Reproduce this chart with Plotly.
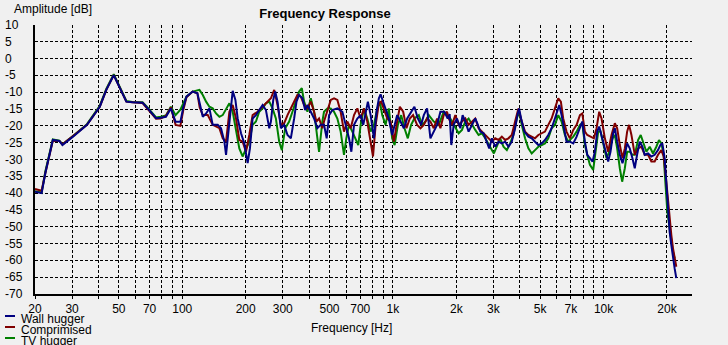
import plotly.graph_objects as go

# ---- measured responses (frequency in Hz, amplitude in dB) ----
wall_freq = [20, 21.5, 22.4, 23.2, 24.3, 26.1, 27.0, 30.3, 35.3, 40.6, 43.6, 47.3, 50.5, 54.3, 58.0, 64.8,
             68.6, 75.1, 79.0, 83.7, 88.3, 93.0, 98.0, 101, 104.7, 112, 118, 121,
             125.2, 129.8, 134.6, 139.5, 147.4, 152.8, 158.5, 161.4, 166.2, 170.5, 173.6, 178.8, 183.3, 190.1,
             197.1, 204.4, 209.6, 215.8, 223.8, 232, 240.7, 249.6, 258.9, 263.6, 270.4, 276.3, 283.4, 293.9,
             304.8, 316, 327.7, 339.8, 348.6, 358.8, 372.1, 383.1, 393, 407.6, 422.6, 438.1, 454.3,
             471, 485, 497.8, 516, 545, 575.6, 596.8, 619, 635, 654, 677.9, 702.9, 723.6, 742.5, 760.8, 784,
             812.7, 836.7, 858, 874, 900, 923, 956.5, 992, 1019, 1048, 1087, 1127, 1169, 1220, 1265, 1313,
             1361, 1402, 1453, 1507, 1563, 1621, 1681, 1755, 1820,
             1860, 1894, 1943, 2015, 2090, 2143, 2207, 2288, 2372, 2460, 2533, 2598, 2693, 2793, 2866, 2950,
             3059, 3172, 3290, 3411, 3537, 3667, 3803, 3901, 3972, 4060, 4207, 4397, 4560, 4727, 4903, 5084,
             5271, 5466, 5669, 5877, 6052, 6161, 6320, 6505, 6672, 6920,
             7184, 7450, 7726, 7925, 8157, 8368, 8614, 8868, 9096, 9331, 9536, 9782, 10145, 10521, 10790,
             11108, 11313, 11604, 11947, 12300, 12618, 12942, 13320, 13713, 14066, 14426, 14853, 15290,
             15683, 16265, 16867, 17488, 18136, 18602, 19014, 19506, 19860, 20225, 20596, 20974, 21359,
             21751, 22150]
wall_db = [-39.6, -40.0, -34.0, -29.5, -24.2, -24.5, -25.7, -23.2, -19.7, -14.3, -9.3, -4.9, -8.8, -12.8, -13.0, -13.1,
           -14.8, -17.7, -17.6, -17.3, -14.8, -18.8, -18.8, -14.7, -11.3, -9.8, -10.3, -13.5,
           -17.3, -16.3, -14.8, -19.7, -19.7, -20.7, -24.7, -28.6, -20.7, -12.3, -9.6, -12.3, -17.8, -22.2,
           -25.2, -31.1, -26.7, -17.8, -16.8, -15.3, -13.8, -15.3, -20.7, -18.7, -12.3, -9.8, -12.8, -20.7,
           -19.7, -22.7, -23.7, -17.8, -12.8, -10.8, -11.8, -15.3, -13.8, -15.8, -17.8, -20.7, -19.7,
           -19.7, -23.7, -16.8, -15.3, -14.8, -15.8, -19.7, -23.7, -27.7, -19.7, -17.8, -16.8, -19.7, -15.8, -12.8, -16.8,
           -23.7, -15.8, -11.8, -10.6, -12.8, -14.8, -17.8, -22.7, -19.7, -16.8, -18.7, -20.7, -17.8, -15.8, -14.3, -17.8,
           -19.7, -16.8, -14.8, -23.7, -21.7, -19.7, -15.8, -15.8, -17.8,
           -16.5, -25.7, -19.7, -17.8, -20.7, -16.8, -18.7, -21.7, -19.7, -17.8, -19.7, -21.7, -22.2, -24.7, -26.7, -23.7,
           -26.2, -24.7, -25.2, -24.7, -26.2, -24.7, -20.7, -16.8, -14.8, -17.8, -21.7, -23.2, -23.7, -24.7, -25.7, -25.2,
           -24.2, -22.7, -20.7, -17.8, -14.8, -13.8, -16.8, -21.7, -24.7, -24.7,
           -25.2, -23.2, -20.7, -18.7, -24.7, -28.6, -29.6, -30.6, -27.7, -21.7, -20.2, -23.2, -26.7, -30.6, -27.7,
           -22.2, -20.7, -24.7, -28.6, -31.1, -28.6, -25.2, -26.7, -29.6, -32.6, -28.6, -24.7, -26.2,
           -28.6, -28.2, -29.1, -28.6, -27.2, -25.7, -25.2, -29.6, -37.6, -46.5, -51.5, -55.4, -59.4,
           -62.4, -65.3]

comp_freq = [20, 21.5, 22.4, 23.2, 24.3, 26.1, 27.0, 30.3, 35.3, 40.6, 43.6, 47.3, 50.5, 54.3, 58.0, 64.8,
             68.6, 75.1, 79.0, 83.7, 88.3, 93.0, 98.0, 101, 104.7, 112, 118, 121,
             125.2, 132.2, 139.5, 150.1, 155.6, 161.4, 167.4, 173.6, 180, 186.6, 193.5, 200.7, 208.1, 215.8,
             227.9, 240.7, 254.1, 263.6, 273.3, 283.4, 293.9, 304.8, 316, 327.7, 339.8, 352.3, 365.5, 378.9,
             393, 407.6, 422.6, 433.4, 446.2, 462.6,
             471, 488.8, 507, 525.6, 545, 565, 586, 607.6, 630.3, 654, 677.9, 702.9, 728.8, 755.7, 784, 804.7,
             828.3, 858, 880, 906, 940, 974.9, 1011, 1041, 1079, 1119, 1160, 1203, 1247, 1303, 1352, 1402,
             1453, 1507, 1563, 1621, 1681, 1743, 1807,
             1840, 1908, 1979, 2052, 2128, 2207, 2288, 2372, 2460, 2551, 2645, 2744, 2845, 2950, 3059, 3172,
             3290, 3411, 3537, 3667, 3803, 3943, 4089, 4240, 4397, 4560, 4727, 4903, 5084, 5271, 5466, 5669,
             5877, 6095, 6272, 6435, 6672, 6920,
             7184, 7450, 7726, 7925, 8157, 8368, 8676, 8998, 9263, 9536, 9782, 10145, 10521, 10908, 11313,
             11604, 11947, 12300, 12618, 12942, 13224, 13563, 14066, 14586, 15123, 15683, 16265, 16867,
             17488, 18136, 18809, 19291, 19719, 20081, 20596, 20974, 21359, 21751, 22150]
comp_db = [-38.8, -39.3, -34.0, -29.5, -24.4, -24.5, -25.5, -23.0, -19.7, -14.3, -9.3, -4.9, -8.8, -12.8, -13.0, -13.2,
           -15.0, -17.9, -17.8, -17.0, -14.5, -19.7, -20.0, -15.5, -11.5, -9.8, -10.3, -14.5,
           -16.8, -16.8, -19.7, -20.7, -23.7, -24.7, -15.8, -13.8, -17.8, -24.2, -24.7, -27.7, -22.7, -16.8,
           -15.8, -14.3, -12.8, -11.8, -9.3, -13.8, -19.7, -19.2, -16.8, -14.8, -12.8, -10.8, -11.3, -13.8,
           -14.8, -12.8, -15.8, -18.7, -17.8, -20.7,
           -18.7, -15.8, -12.3, -11.8, -12.3, -15.8, -21.7, -18.7, -20.7, -16.8, -14.8, -17.8, -14.8, -18.7, -24.7, -29.1,
           -19.7, -13.3, -12.8, -14.8, -17.8, -18.7, -24.7, -19.7, -14.3, -15.8, -20.7, -17.8, -16.8, -19.7, -20.7, -19.7,
           -17.8, -18.7, -20.7, -17.8, -20.7, -16.8, -15.8,
           -17.8, -19.7, -16.8, -19.7, -18.7, -17.8, -19.7, -18.7, -17.8, -20.7, -21.7, -22.7, -23.7, -24.7, -23.7, -24.2,
           -23.2, -24.2, -23.7, -22.7, -18.7, -14.8, -18.7, -21.7, -22.7, -23.2, -23.7, -22.7, -22.2, -21.7, -19.7, -17.8,
           -14.8, -11.8, -12.8, -17.8, -21.7, -23.7,
           -21.2, -19.7, -16.8, -16.3, -21.7, -22.7, -23.2, -23.7, -20.7, -15.8, -17.8, -23.7, -27.7, -22.7, -19.2,
           -20.7, -25.7, -29.6, -26.7, -21.7, -19.7, -22.7, -28.6, -26.7, -26.2, -28.6, -28.6, -30.6,
           -30.6, -28.6, -27.2, -29.1, -34.6, -40.5, -47.5, -52.4, -56.4, -58.9, -61.9]

tv_freq = [20, 21.5, 22.4, 23.2, 24.3, 26.1, 27.0, 30.3, 35.3, 40.6, 43.6, 47.3, 50.5, 54.3, 58.0, 64.8,
           68.6, 75.1, 79.0, 83.7, 88.3, 93.0, 98.0, 104.7, 112, 118,
           120.7, 125.2, 129.8, 134.6, 139.5, 144.7, 150.1, 155.6, 161.4, 167.4, 173.6, 180, 186.6, 193.5,
           200.7, 208.1, 215.8, 223.8, 232, 240.7, 249.6, 258.9, 268.3, 278.3, 288.6, 297.1, 308.1, 321.8,
           333.6, 346, 358.8, 369.5, 378.9, 393, 407.6, 422.6, 438.1, 446.2, 462.6,
           471, 488.8, 507, 525.6, 545, 565, 586, 601, 619, 642, 665.6, 685, 702.9, 728.8, 755.7, 784, 812.7,
           843, 867.4, 890, 923, 956.5, 992, 1019, 1056, 1095, 1135, 1177, 1220, 1265, 1327, 1376, 1427,
           1480, 1563, 1650, 1743, 1820,
           1860, 1908, 1979, 2052, 2128, 2207, 2288, 2372, 2460, 2551, 2645, 2744, 2845, 2950, 3016, 3116,
           3230, 3350, 3474, 3602, 3734, 3873, 3972, 4089, 4240, 4397, 4560, 4727, 4903, 5084, 5271, 5466,
           5669, 5877, 6095, 6320, 6553, 6796, 7049,
           7184, 7450, 7726, 7925, 8157, 8368, 8614, 8933, 9196, 9433, 9676, 9962, 10331, 10636, 11027,
           11313, 11604, 11947, 12256, 12618, 12942, 13320, 13713, 14066, 14586, 15015, 15400, 15972,
           16563, 17173, 17809, 18333, 18809, 19291, 19646, 20081, 20596, 20974, 21359, 21751]
tv_db = [-39.4, -39.8, -33.5, -29.0, -24.0, -24.4, -25.5, -23.0, -19.5, -14.0, -9.0, -4.6, -8.6, -12.6, -12.9, -13.0,
         -14.6, -17.5, -17.3, -16.9, -14.3, -16.8, -15.2, -11.3, -9.8, -9.3,
         -9.3, -10.8, -12.8, -14.3, -14.8, -16.3, -17.3, -16.8, -14.8, -13.3, -15.8, -21.7, -26.7, -29.1,
         -26.7, -24.7, -19.7, -18.7, -15.8, -14.8, -13.3, -12.8, -14.8, -17.8, -24.7, -27.2, -20.7, -18.7,
         -15.8, -12.8, -9.8, -8.8, -12.8, -15.8, -11.8, -15.8, -24.7, -27.7, -18.7,
         -15.8, -14.8, -14.8, -15.8, -17.8, -21.7, -28.6, -23.7, -19.7, -21.7, -23.7, -25.7, -19.7, -14.8, -17.8, -21.7, -19.7,
         -14.8, -12.8, -16.8, -19.7, -14.8, -23.7, -25.7, -19.7, -16.8, -20.7, -23.7, -19.7, -17.8, -16.8, -19.7, -18.7,
         -16.8, -18.7, -19.7, -15.8, -16.8,
         -17.5, -18.7, -20.7, -22.2, -21.2, -18.7, -17.8, -19.7, -21.2, -22.7, -22.2, -23.7, -25.7, -27.2, -28.2, -26.2,
         -23.7, -26.2, -27.2, -25.2, -22.7, -17.8, -15.8, -19.7, -23.7, -26.7, -28.2, -27.2, -26.2, -25.7, -25.2, -23.7,
         -20.7, -19.7, -16.8, -18.7, -22.7, -24.7, -23.7,
         -23.2, -21.7, -19.7, -19.2, -25.7, -28.6, -31.6, -33.1, -27.7, -21.7, -21.7, -25.7, -29.6, -27.7, -23.7,
         -22.7, -26.7, -32.6, -36.6, -32.6, -27.7, -27.7, -28.6, -28.6, -24.2, -22.7, -24.7, -27.7,
         -26.2, -28.2, -26.2, -24.2, -25.2, -28.6, -36.6, -45.5, -50.5, -54.4, -57.4, -59.4]

series_names = ["Wall hugger", "Comprimised", "TV hugger"]
series_colors = ["#000080", "#800000", "#008000"]

# axis ticks
grid_freqs = [20, 30, 40, 50, 60, 70, 80, 90, 100, 200, 300, 400, 500, 600, 700, 800, 900,
              1000, 2000, 3000, 4000, 5000, 6000, 7000, 8000, 9000, 10000, 20000]
freq_labels = {20: "20", 30: "30", 50: "50", 70: "70", 100: "100", 200: "200", 300: "300",
               500: "500", 700: "700", 1000: "1k", 2000: "2k", 3000: "3k", 5000: "5k",
               7000: "7k", 10000: "10k", 20000: "20k"}
amp_ticks = list(range(10, -75, -5))

FONT = "Liberation Sans"
BG = "#f0f0f0"

fig = go.Figure()
# blue drawn last so it sits on top
for freq, db, idx in [(tv_freq, tv_db, 2), (comp_freq, comp_db, 1), (wall_freq, wall_db, 0)]:
    fig.add_trace(go.Scatter(x=freq, y=db, mode="lines", name=series_names[idx],
                             line=dict(color=series_colors[idx], width=2), showlegend=False,
                             hoverinfo="skip"))

fig.update_xaxes(type="log", range=[1.30103, 4.4199],
                 tickvals=grid_freqs, ticktext=[freq_labels.get(f, "") for f in grid_freqs],
                 showgrid=True, gridcolor="black", griddash="3px,2px", gridwidth=1,
                 showline=True, linecolor="black", linewidth=2,
                 ticks="outside", ticklen=3, tickcolor="black", tickwidth=1,
                 tickfont=dict(family=FONT, size=12, color="black"), tickangle=0,
                 zeroline=False)
fig.update_yaxes(range=[-70, 10], tickvals=amp_ticks, showticklabels=False,
                 showgrid=True, gridcolor="black", griddash="3px,2px", gridwidth=1,
                 showline=True, linecolor="black", linewidth=2, zeroline=False, ticks="")

annotations = []
for v in amp_ticks:
    annotations.append(dict(xref="paper", yref="y", x=0, y=v, xshift=-32, xanchor="left",
                            yanchor="middle", text=str(v), showarrow=False,
                            font=dict(family=FONT, size=12, color="black")))
annotations.append(dict(xref="paper", yref="paper", x=0, y=1, xshift=-23, yshift=16,
                        xanchor="left", yanchor="middle", text="Amplitude [dB]", showarrow=False,
                        font=dict(family=FONT, size=12, color="black")))
annotations.append(dict(xref="paper", yref="paper", x=0.481, y=0, yshift=-34,
                        xanchor="center", yanchor="middle", text="Frequency [Hz]", showarrow=False,
                        font=dict(family=FONT, size=12, color="black")))

# compact legend block under the axis
shapes = []
legend_rows = [(-22, 0), (-33, 1), (-44, 2)]
for dy, idx in legend_rows:
    annotations.append(dict(xref="paper", yref="paper", x=0, y=0, xshift=-16, yshift=dy - 3,
                            xanchor="left", yanchor="middle", text=series_names[idx],
                            showarrow=False, font=dict(family=FONT, size=12, color="black")))
    yp = dy / 269.0
    shapes.append(dict(type="line", xref="paper", yref="paper", x0=-30 / 657, x1=-20 / 657,
                       y0=yp, y1=yp, line=dict(color=series_colors[idx], width=2)))

fig.update_layout(
    width=728, height=345,
    margin=dict(l=35, r=36, t=25, b=51),
    paper_bgcolor=BG, plot_bgcolor=BG,
    title=dict(text="<b>Frequency Response</b>", x=325 / 728, xanchor="center",
               y=1 - 13 / 345, yanchor="middle", font=dict(family=FONT, size=13, color="black")),
    annotations=annotations, shapes=shapes, showlegend=False,
)

fig.write_html("out.html")
